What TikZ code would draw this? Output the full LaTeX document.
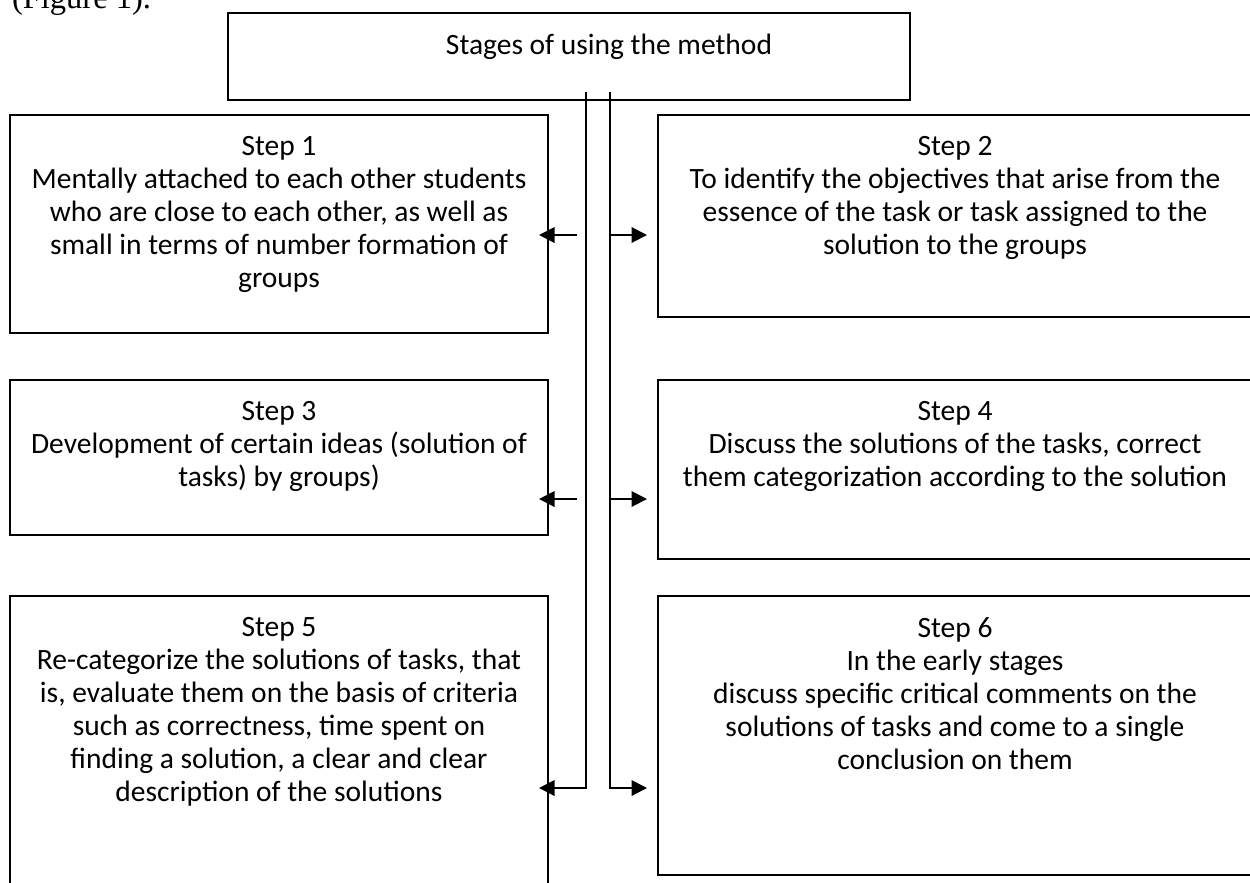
\documentclass[tikz,border=0pt]{standalone}
\usepackage{fontspec}
\setmainfont{Carlito}
\newfontfamily\figfont{Liberation Serif}
\usetikzlibrary{arrows.meta}
\usetikzlibrary{fit}
\usetikzlibrary{positioning}

\begin{document}
\begin{tikzpicture}[x = 0.4pt, y = -0.4pt, line width = 0.8pt,
  stepbox/.style = {draw, inner sep = 0pt},
  steptext/.style = {inner sep = 0pt, align = center,
    font = \fontsize{11.8}{13.2}\selectfont},
  branch/.style = {-{Triangle[length = 6.2pt, width = 6.2pt]}}]
  \useasboundingbox (0, 0) rectangle (1250, 882);
  \clip (0, 0) rectangle (1250, 882);

  \node[anchor = base west, inner sep = 0pt,
  font = \figfont\fontsize{13}{15}\selectfont] (fig) at (11, 8) {(Figure 1).};

  % boxes
  \node[stepbox, fit = {(228, 13) (910, 100)}] (title) {};
  \node[stepbox, fit = {(10, 115) (548, 333)}] (s1) {};
  \node[stepbox, fit = {(658, 115) (1252, 317)}] (s2) {};
  \node[stepbox, fit = {(10, 380) (548, 535)}] (s3) {};
  \node[stepbox, fit = {(658, 380) (1252, 559)}] (s4) {};
  \node[stepbox, fit = {(10, 596) (548, 900)}] (s5) {};
  \node[stepbox, fit = {(658, 596) (1252, 875)}] (s6) {};

  \node[steptext, anchor = north] (ttitle) at (609, 33) {Stages of using the method};
  \node[steptext, below = 8.5pt of s1.north] (t1) {Step 1\\
    Mentally attached to each other students\\
    who are close to each other, as well as\\
    small in terms of number formation of\\
    groups};
  \node[steptext, below = 8.5pt of s2.north] (t2) {Step 2\\
    To identify the objectives that arise from the\\
    essence of the task or task assigned to the\\
    solution to the groups};
  \node[steptext, below = 8.5pt of s3.north] (t3) {Step 3\\
    Development of certain ideas (solution of\\
    tasks) by groups)};
  \node[steptext, below = 8.5pt of s4.north] (t4) {Step 4\\
    Discuss the solutions of the tasks, correct\\
    them categorization according to the solution};
  \node[steptext, below = 8.5pt of s5.north] (t5) {Step 5\\
    Re-categorize the solutions of tasks, that\\
    is, evaluate them on the basis of criteria\\
    such as correctness, time spent on\\
    finding a solution, a clear and clear\\
    description of the solutions};
  \node[steptext, below = 8.5pt of s6.north] (t6) {Step 6\\
    In the early stages\\
    discuss specific critical comments on the\\
    solutions of tasks and come to a single\\
    conclusion on them};

  % trunk lines
  \coordinate (tl) at (586, 92);
  \coordinate (tr) at (610, 92);
  \coordinate (l1) at (577, 235);
  \coordinate (l3) at (577, 499);
  \coordinate (l5) at (586, 788);
  \coordinate (r1) at (610, 235);
  \coordinate (r3) at (610, 499);
  \coordinate (r5) at (610, 788);

  \draw[branch, shorten >= -4pt] (tl) -- (l5) -- (l5 -| s5.east);
  \draw[branch, shorten >= 4pt] (tr) -- (r5) -- (r5 -| s6.west);

  \draw[branch, shorten >= -4pt] (l1) -- (l1 -| s1.east);
  \draw[branch, shorten >= -4pt] (l3) -- (l3 -| s3.east);
  \draw[branch, shorten >= 4pt] (r1) -- (r1 -| s2.west);
  \draw[branch, shorten >= 4pt] (r3) -- (r3 -| s4.west);
\end{tikzpicture}
\end{document}
